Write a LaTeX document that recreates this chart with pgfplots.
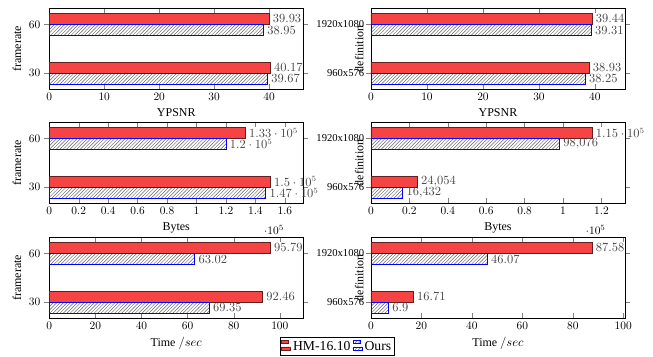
\documentclass[border=0pt]{standalone}
\usepackage{fontspec}
\setmainfont{Liberation Serif}
\usepackage{pgfplots}
\pgfplotsset{compat=1.18}
\usetikzlibrary{patterns}
\definecolor{barred}{RGB}{246,68,68}
\definecolor{bardraw}{RGB}{100,30,30}
\definecolor{lblgray}{RGB}{70,70,70}
\pgfplotsset{
  myaxis/.style={
    xbar, scale only axis, width=222.8pt, height=71pt,
    anchor=north west,
    xmin=0, ymin=-0.33, ymax=1.33,
    ytick={0,1}, ytick align=outside,
    bar width=9.6pt,
    nodes near coords,
    every node near coord/.append style={color=lblgray, font=\fontsize{10.5}{12}\selectfont},
    tick label style={font=\fontsize{10}{12}\selectfont},
    label style={font=\fontsize{10.5}{12}\selectfont},
    every x tick scale label/.style={at={(xticklabel cs:0.885,6pt)}, anchor=north, inner sep=0pt},
  },
  leftaxis/.style={myaxis, yticklabels={$30$,$60$}, ylabel={framerate}},
  rightaxis/.style={myaxis, yticklabels={960x576,1920x1080}, ylabel={definition},
    yticklabel style={font=\fontsize{9.3}{11}\selectfont, inner xsep=1.5pt},
    ylabel style={at={(axis description cs:-0.046,0.5)}, anchor=center}},
  redbar/.style={fill=barred, draw=bardraw, bar shift=4.9pt},
  ourbar/.style={pattern=north east lines, pattern color=black!60, draw=blue, bar shift=-4.9pt},
}
\begin{document}
\begin{tikzpicture}
% top left
\begin{axis}[leftaxis, at={(43.2pt,-7.3pt)}, xmax=46.2, xtick={0,10,...,40}, xlabel={YPSNR}]
\addplot[redbar] coordinates {(40.17,0) (39.93,1)};
\addplot[ourbar] coordinates {(39.67,0) (38.95,1)};
\end{axis}
% top right
\begin{axis}[rightaxis, at={(325.4pt,-7.3pt)}, xmax=45.36, xtick={0,10,...,40}, xlabel={YPSNR}]
\addplot[redbar] coordinates {(38.93,0) (39.44,1)};
\addplot[ourbar] coordinates {(38.25,0) (39.31,1)};
\end{axis}
% middle left
\begin{axis}[leftaxis, at={(43.2pt,-107.3pt)}, xmax=172500, xtick={0,20000,...,160000}, xlabel={Bytes}]
\addplot[redbar] coordinates {(150000,0) (133000,1)};
\addplot[ourbar] coordinates {(147000,0) (120000,1)};
\end{axis}
% middle right
\begin{axis}[rightaxis, at={(325.4pt,-107.3pt)}, xmax=132250, xtick={0,20000,...,120000}, xlabel={Bytes}]
\addplot[redbar] coordinates {(24054,0) (115000,1)};
\addplot[ourbar] coordinates {(16432,0) (98076,1)};
\end{axis}
% bottom left
\begin{axis}[leftaxis, at={(43.2pt,-208.2pt)}, xmax=110.16, xtick={0,20,...,100}, xlabel={Time $/sec$},
  legend style={at={(0.908,-0.235)}, anchor=north west, legend columns=2,
    font=\fontsize{12}{14}\selectfont, draw=black, inner sep=1pt}]
\addplot[redbar] coordinates {(92.46,0) (95.79,1)};
\addlegendentry{HM-16.10}
\addplot[ourbar] coordinates {(69.35,0) (63.02,1)};
\addlegendentry{Ours}
\end{axis}
% bottom right
\begin{axis}[rightaxis, at={(325.4pt,-208.2pt)}, xmax=100.7, xtick={0,20,...,100}, xlabel={Time $/sec$}]
\addplot[redbar] coordinates {(16.71,0) (87.58,1)};
\addplot[ourbar] coordinates {(6.9,0) (46.07,1)};
\end{axis}
\pgfresetboundingbox
\useasboundingbox (0,0) rectangle (572.8pt,-312.3pt);
\end{tikzpicture}
\end{document}
